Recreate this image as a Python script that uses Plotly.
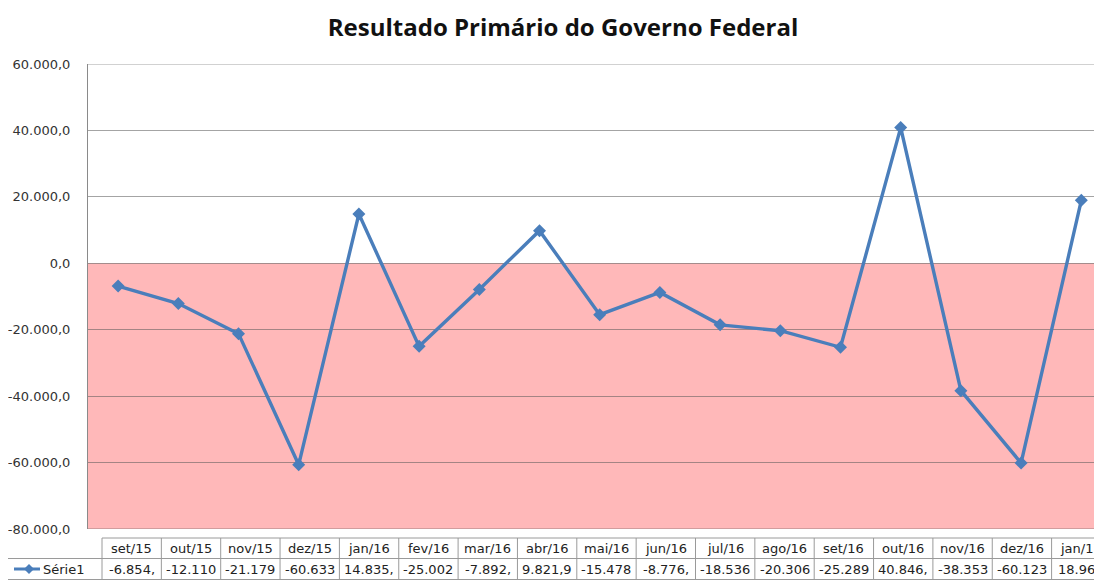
import plotly.graph_objects as go

categories = ["set/15", "out/15", "nov/15", "dez/15", "jan/16", "fev/16", "mar/16", "abr/16",
              "mai/16", "jun/16", "jul/16", "ago/16", "set/16", "out/16", "nov/16", "dez/16", "jan/17"]
values = [-6854, -12110, -21179, -60633, 14835, -25002, -7892, 9821.9,
          -15478, -8776, -18536, -20306, -25289, 40846, -38353, -60123, 18967]
table_labels = ["-6.854,", "-12.110", "-21.179", "-60.633", "14.835,", "-25.002", "-7.892,", "9.821,9",
                "-15.478", "-8.776,", "-18.536", "-20.306", "-25.289", "40.846,", "-38.353", "-60.123", "18.967"]
tick_vals = [60000, 40000, 20000, 0, -20000, -40000, -60000, -80000]
tick_text = ["60.000,0", "40.000,0", "20.000,0", "0,0", "-20.000,0", "-40.000,0", "-60.000,0", "-80.000,0"]
series_name = "Série1"
title = "Resultado Primário do Governo Federal"

OFF = 8  # page body margin
W, H = 1102 - OFF, 580 - OFF
L, R, T, B = 88 - OFF, 1102 - OFF, 64 - OFF, 529 - OFF
PW, PH = R - L, B - T

def px(x):
    return (x - OFF - L) / PW

def py(y):
    return (B - (y - OFF)) / PH

line_color = "#4A7EBB"
grid = "rgba(90,90,90,0.55)"
border = "#9a9a9a"
font_fam = "DejaVu Sans"

fig = go.Figure()
fig.add_trace(go.Scatter(
    x=list(range(len(categories))), y=values, mode="lines+markers",
    line=dict(color=line_color, width=3.4),
    marker=dict(symbol="diamond", size=10, color=line_color),
    name=series_name, showlegend=False, cliponaxis=False,
))

shapes = [
    dict(type="rect", xref="paper", yref="y", x0=0, x1=1, y0=-80000, y1=0,
         fillcolor="#FFB8B9", line=dict(width=0), layer="below"),
    dict(type="line", xref="paper", yref="y", x0=0, x1=1, y0=60000, y1=60000,
         line=dict(color=grid, width=1), layer="below"),
    dict(type="line", xref="paper", yref="y", x0=0, x1=1, y0=-80000, y1=-80000,
         line=dict(color=grid, width=1), layer="below"),
]

# data table
col_left = 102
col_w = 59.35
n = len(categories)
row_top, row_mid, row_bot = 538, 558.5, 579.5
texts = []
shapes.append(dict(type="line", xref="paper", yref="paper", x0=px(col_left), x1=px(col_left + n * col_w),
                   y0=py(row_top), y1=py(row_top), line=dict(color=border, width=1)))
shapes.append(dict(type="line", xref="paper", yref="paper", x0=px(OFF), x1=px(col_left + n * col_w),
                   y0=py(row_mid), y1=py(row_mid), line=dict(color=border, width=1)))
shapes.append(dict(type="line", xref="paper", yref="paper", x0=px(OFF), x1=px(col_left + n * col_w),
                   y0=py(row_bot), y1=py(row_bot), line=dict(color=border, width=1)))
for i in range(n + 1):
    xb = col_left + i * col_w
    shapes.append(dict(type="line", xref="paper", yref="paper", x0=px(xb), x1=px(xb),
                       y0=py(row_top), y1=py(row_bot), line=dict(color=border, width=1)))
for i in range(n):
    xc = col_left + (i + 0.5) * col_w
    texts.append(dict(x=px(xc), y=py((row_top + row_mid) / 2), xref="paper", yref="paper",
                      text=categories[i], showarrow=False, xanchor="center", yanchor="middle",
                      font=dict(family=font_fam, size=13, color="#222")))
    texts.append(dict(x=px(xc), y=py((row_mid + row_bot) / 2 + 0.5), xref="paper", yref="paper",
                      text=table_labels[i], showarrow=False, xanchor="center", yanchor="middle",
                      font=dict(family=font_fam, size=13, color="#222")))
# legend key in table
shapes.append(dict(type="line", xref="paper", yref="paper", x0=px(14), x1=px(40),
                   y0=py(569), y1=py(569), line=dict(color=line_color, width=3)))
shapes.append(dict(type="path", xref="paper", yref="paper",
                   path="M {0},{1} L {2},{3} L {0},{4} L {5},{3} Z".format(
                       px(29), py(564), px(34), py(569), py(574), px(24)),
                   fillcolor=line_color, line=dict(color=line_color, width=0)))
texts.append(dict(x=px(41), y=py(569), xref="paper", yref="paper", text=series_name,
                  showarrow=False, xanchor="left", yanchor="middle",
                  font=dict(family=font_fam, size=13, color="#222")))

fig.update_layout(
    width=W, height=H,
    margin=dict(l=L, r=W - R, t=T, b=H - B, autoexpand=False),
    paper_bgcolor="white", plot_bgcolor="white",
    title=dict(text="<b>" + title + "</b>", x=(563 - OFF) / W, xanchor="center", y=1 - (28 - OFF) / H,
               yanchor="middle", font=dict(family="Open Sans", size=24, color="#111")),
    shapes=shapes, annotations=texts,
    xaxis=dict(range=[-0.5, -0.5 + PW / 60.2], showgrid=False, showticklabels=False, zeroline=False,
               showline=False, fixedrange=True),
    yaxis=dict(range=[-80000, 60000], tickvals=tick_vals, ticktext=tick_text,
               showgrid=True, gridcolor=grid, gridwidth=1, zeroline=False,
               showline=True, linecolor="#8a8a8a", linewidth=1, ticks="", ticklabelstandoff=14,
               tickfont=dict(family=font_fam, size=13, color="#333")),
)

fig.write_html("out.html")
